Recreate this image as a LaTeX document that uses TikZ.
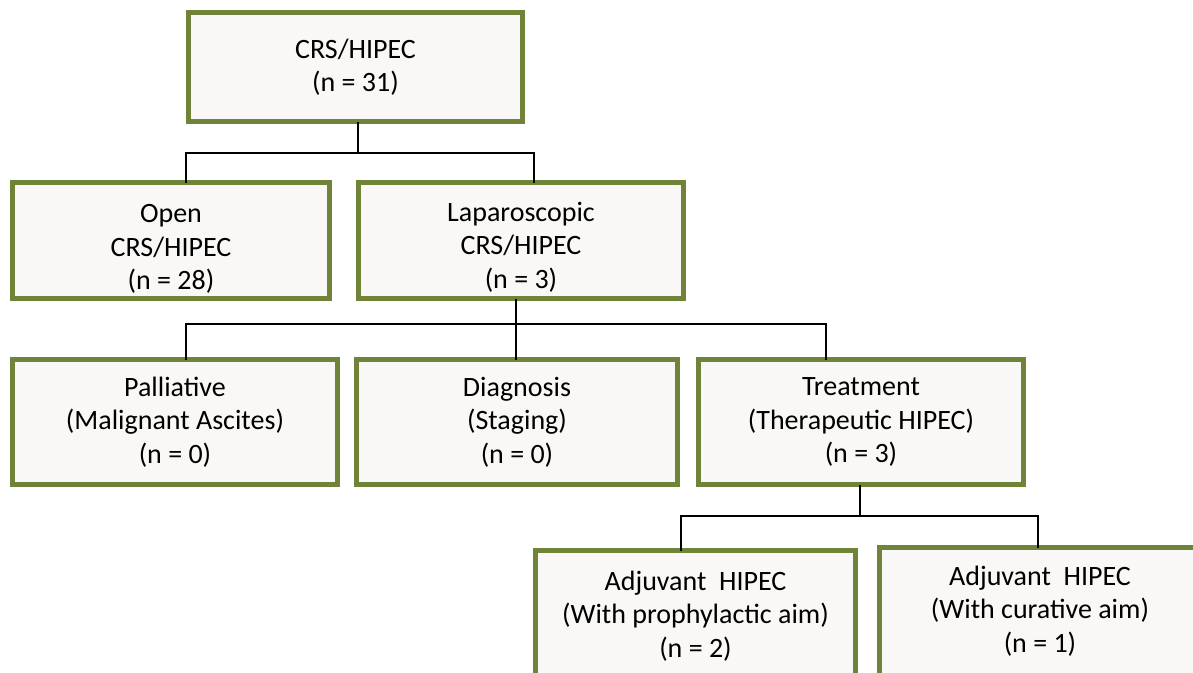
\documentclass[tikz,border=0pt]{standalone}
\usepackage{fontspec}
\setmainfont{Carlito}
\definecolor{olive}{HTML}{6F8339}
\definecolor{boxfill}{HTML}{F9F8F6}
\tikzset{
  box/.style={draw=olive, line width=3.75pt, fill=boxfill, align=center,
    inner sep=0pt, outer sep=0pt,
    font=\fontsize{21}{25}\selectfont},
  txt/.style={align=center, inner sep=0pt, font=\fontsize{21}{25}\selectfont},
  link/.style={draw=black, line width=1.1pt}
}
\begin{document}
\begin{tikzpicture}[x=0.75pt, y=-0.75pt]
\useasboundingbox (0,0) rectangle (1193,672);
\clip (0,0) rectangle (1193,672);
\fill[white] (0,0) rectangle (1193,672);
% boxes (centre, inner size)
\node[box, minimum width=334*0.75pt, minimum height=109*0.75pt] (top) at (355.5,67) {CRS/HIPEC\\(n = 31)};
\node[box, minimum width=317*0.75pt, minimum height=116*0.75pt] (open) at (171,240.5) {};
\node[txt] (opent) at (171,249) {Open\\CRS/HIPEC\\(n = 28)};
\node[box, minimum width=325*0.75pt, minimum height=116*0.75pt] (lap) at (521,240.5) {};
\node[txt] (lapt) at (521,247) {Laparoscopic\\CRS/HIPEC\\(n = 3)};
\node[box, minimum width=325*0.75pt, minimum height=125*0.75pt] (pal) at (175,422) {Palliative\\(Malignant Ascites)\\(n = 0)};
\node[box, minimum width=321*0.75pt, minimum height=125*0.75pt] (diag) at (517,422) {Diagnosis\\(Staging)\\(n = 0)};
\node[box, minimum width=325*0.75pt, minimum height=125*0.75pt] (treat) at (861,422) {Treatment\\(Therapeutic HIPEC)\\(n = 3)};
% bottom boxes run past the lower edge of the picture
\node[box, minimum width=320*0.75pt, minimum height=160*0.75pt] (adj1) at (695.5,630.5) {};
\node[txt] (adj1t) at (695.5,616) {Adjuvant\ \ HIPEC\\(With prophylactic aim)\\(n = 2)};
\node[box, minimum width=321*0.75pt, minimum height=160*0.75pt] (adj2) at (1040,627.5) {};
\node[txt] (adj2t) at (1040,611) {Adjuvant\ \ HIPEC\\(With curative aim)\\(n = 1)};
% junction coordinates
\coordinate (j1) at (358,153);
\coordinate (a1) at (186,180);
\coordinate (a2) at (534,180);
\coordinate (j2) at (516,324);
\coordinate (b1) at (186,355);
\coordinate (b3) at (826,355);
\coordinate (j3) at (860,516);
\coordinate (c1) at (681,548);
\coordinate (c2) at (1038,545);
% connectors
\draw[link] (top.south -| j1) -- (j1);
\draw[link] (open.north -| a1) |- (j1) -| (lap.north -| a2);
\draw[link] (lap.south -| j2) -- (j2);
\draw[link] (pal.north -| b1) |- (j2) -| (treat.north -| b3);
\draw[link] (j2) -- (diag.north -| j2);
\draw[link] (treat.south -| j3) -- (j3);
\draw[link] (adj1.north -| c1) |- (j3) -| (adj2.north -| c2);
\end{tikzpicture}
\end{document}
